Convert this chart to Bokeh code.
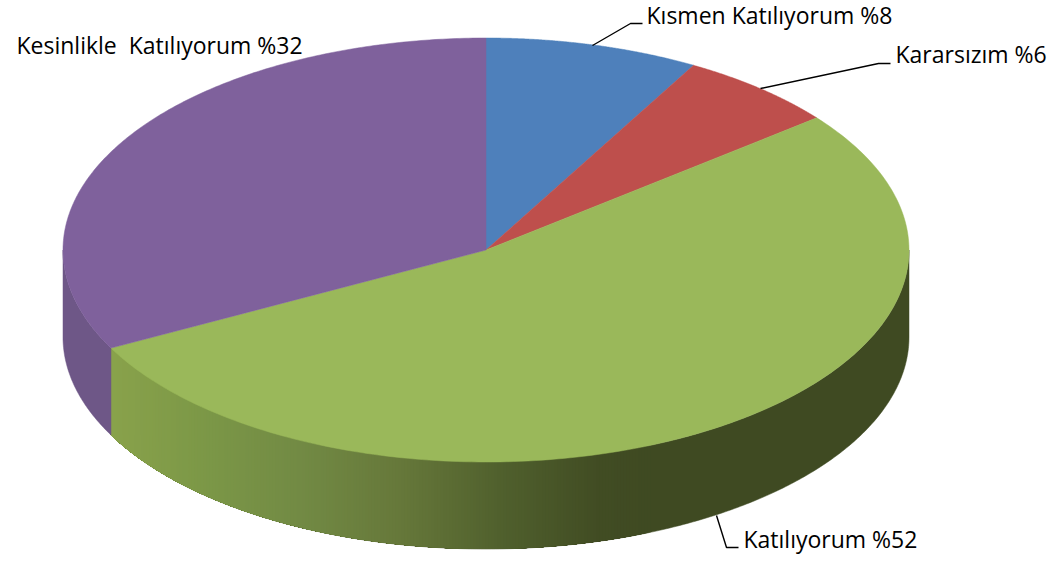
import numpy as np
from bokeh.plotting import figure
from bokeh.models import Range1d
from bokeh.core.properties import value
from bokeh.embed import file_html
from bokeh.resources import INLINE

# Data
categories = ["Kısmen Katılıyorum", "Kararsızım", "Katılıyorum", "Kesinlikle  Katılıyorum"]
shares = [8, 6, 52, 32]
labels = ["Kısmen Katılıyorum %8", "Kararsızım %6", "Katılıyorum %52", "Kesinlikle\u00a0 Katılıyorum %32"]
top_colors = ["#4E80BB", "#BE4F4C", "#9AB85A", "#7F619C"]

# Geometry (page pixels)
CX, CY, RX, RY, DEPTH = 485.5, 249.5, 423.0, 212.0, 87.0

green_x = [110, 200, 300, 400, 500, 600, 650, 909]
green_rgb = [(0x89, 0xA2, 0x4B), (0x7C, 0x98, 0x47), (0x72, 0x8A, 0x44),
             (0x66, 0x78, 0x3A), (0x50, 0x60, 0x2D), (0x41, 0x4C, 0x23),
             (0x3F, 0x4A, 0x22), (0x3F, 0x4A, 0x22)]
purple_side = "#6E5787"


def px(t):
    return CX + RX * np.sin(np.radians(t))


def py(t, drop=0.0):
    return CY - RY * np.cos(np.radians(t)) + drop


def green_color(x):
    c = [int(round(np.interp(x, green_x, [s[i] for s in green_rgb]))) for i in range(3)]
    return "#%02x%02x%02x" % tuple(c)


def angle_at(x):
    # angle on the lower right/left of the rim that lies at page position x
    return 180.0 - np.degrees(np.arcsin(np.clip((x - CX) / RX, -1, 1)))


edges = 360.0 * np.concatenate([[0], np.cumsum(shares)]) / sum(shares)

p = figure(width=1052, height=561, x_range=Range1d(0, 1052), y_range=Range1d(561, 0),
           x_axis_type=None, y_axis_type=None, toolbar_location=None,
           output_backend="svg", min_border=0, outline_line_color=None,
           background_fill_color="white", border_fill_color="white")
p.grid.visible = False

# Side wall of the green slice: a whole band, then overlapping strips on top for the shade
t = np.linspace(90, edges[3], 300)
p.patch(np.r_[px(t), px(t[::-1])], np.r_[py(t), py(t[::-1], DEPTH)],
        fill_color="#3F4A22", line_color="#3F4A22", line_width=0.5)
wall_left = px(edges[3])
strip_edges = np.arange(650, wall_left, -3.0)
for right, left in zip(strip_edges[:-1], strip_edges[1:]):
    t = np.linspace(angle_at(right), edges[3], 40)
    col = green_color((right + left) / 2)
    p.patch(np.r_[px(t), px(t[::-1])], np.r_[py(t), py(t[::-1], DEPTH)],
            fill_color=col, line_color=None)

# Side wall: purple slice, visible as far as the leftmost point
t = np.linspace(edges[3], 270, 60)
p.patch(np.r_[px(t), px(t[::-1])], np.r_[py(t), py(t[::-1], DEPTH)],
        fill_color=purple_side, line_color=purple_side, line_width=0.5)

# Top face
for i in range(len(shares)):
    t = np.linspace(edges[i], edges[i + 1], 200)
    p.patch(np.r_[CX, px(t)], np.r_[CY, py(t)], fill_color=top_colors[i],
            line_color=top_colors[i], line_width=0.5)

# Leader lines
leaders = [([592, 630, 642], [45, 23, 23]),
           ([760, 878, 890], [88, 63, 63]),
           ([716, 726, 738], [515, 547, 547])]
for lx, ly in leaders:
    p.line(lx, ly, line_color="#000000", line_width=1.4)

# Labels
label_x = [646, 895, 743, 16]
label_y = [14.5, 53.5, 538, 44.5]
p.text(label_x, label_y, text=labels, text_font=value("Open Sans"), text_font_size="23px",
       text_color="#000000", text_align="left", text_baseline="middle")

open("out.html", "w").write(file_html(p, INLINE))
